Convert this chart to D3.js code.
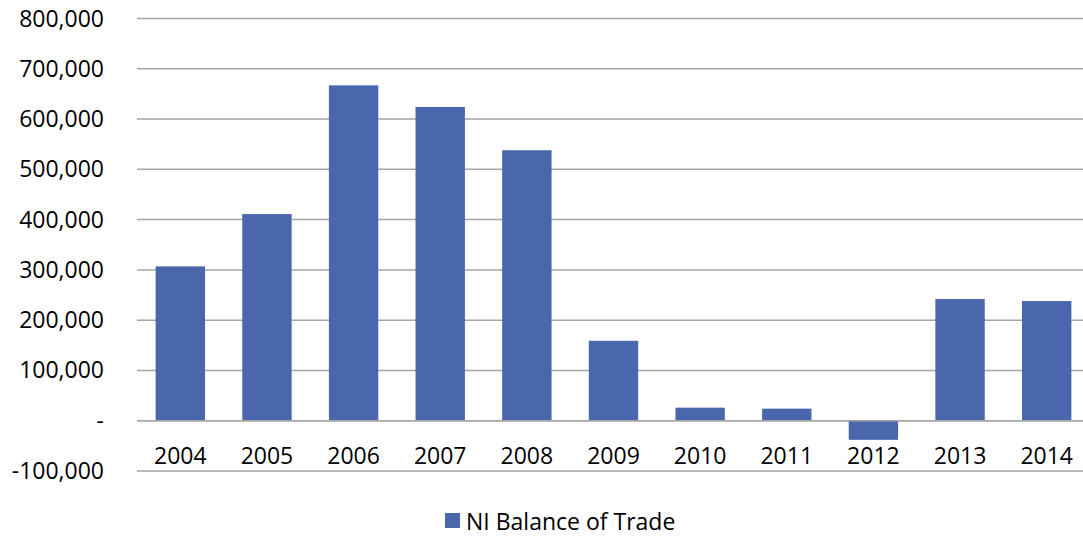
<!DOCTYPE html>
<html>
<head>
<meta charset="utf-8">
<script src="https://cdn.jsdelivr.net/npm/d3@7"></script>
<style>
  body { margin: 0; background: #fff; }
  text { font-family: "Open Sans", Lato, sans-serif; fill: #000; }
</style>
</head>
<body>
<svg id="chart" width="1083" height="540"></svg>
<script>
// chart data
var years = ["2004", "2005", "2006", "2007", "2008", "2009", "2010", "2011", "2012", "2013", "2014"];
var balance = [307000, 411000, 667000, 624000, 538000, 159000, 26000, 24000, -38000, 242000, 238000];
var yTicks = [-100000, 0, 100000, 200000, 300000, 400000, 500000, 600000, 700000, 800000];
var seriesName = "NI Balance of Trade";

var svg = d3.select("#chart");

// set the ranges
var x = d3.scaleBand().domain(years).range([137, 1090]).paddingInner(0.43).paddingOuter(0.215);
var y = d3.scaleLinear().domain([-100000, 800000]).range([471, 18.5]);

var fmt = d3.format(",");
var fmtTick = (d) => { return d === 0 ? "-" : fmt(d).replace("\u2212", "-"); };

// gridlines
svg.append("g")
    .selectAll("line")
    .data(yTicks)
    .enter().append("line")
    .attr("x1", 137)
    .attr("x2", 1083)
    .attr("y1", (d) => { return y(d); })
    .attr("y2", (d) => { return y(d); })
    .attr("stroke", "#a6a6a6")
    .attr("stroke-width", 1.5);

// y labels
svg.append("g")
    .selectAll("text")
    .data(yTicks)
    .enter().append("text")
    .attr("x", 104)
    .attr("y", (d) => { return y(d) + 8; })
    .attr("text-anchor", "end")
    .style("font-size", "23px")
    .text(fmtTick);

// bars
svg.append("g")
    .selectAll("rect")
    .data(years)
    .enter().append("rect")
    .attr("x", (d) => { return x(d); })
    .attr("width", x.bandwidth())
    .attr("y", (d, i) => { return y(Math.max(0, balance[i])); })
    .attr("height", (d, i) => { return Math.abs(y(balance[i]) - y(0)); })
    .attr("fill", "#4A66AC");

// zero line over the bars
svg.append("line")
    .attr("x1", 137).attr("x2", 1083)
    .attr("y1", y(0)).attr("y2", y(0))
    .attr("stroke", "#a6a6a6")
    .attr("stroke-width", 1.5);

// year labels
svg.append("g")
    .selectAll("text")
    .data(years)
    .enter().append("text")
    .attr("x", (d) => { return x(d) + x.bandwidth() / 2; })
    .attr("y", 464)
    .attr("text-anchor", "middle")
    .style("font-size", "23px")
    .text((d) => { return d; });

// legend
svg.append("rect")
    .attr("x", 445)
    .attr("y", 513)
    .attr("width", 15)
    .attr("height", 15)
    .attr("fill", "#4A66AC");

svg.append("text")
    .attr("x", 466)
    .attr("y", 530)
    .style("font-size", "23px")
    .text(seriesName);
</script>
</body>
</html>
